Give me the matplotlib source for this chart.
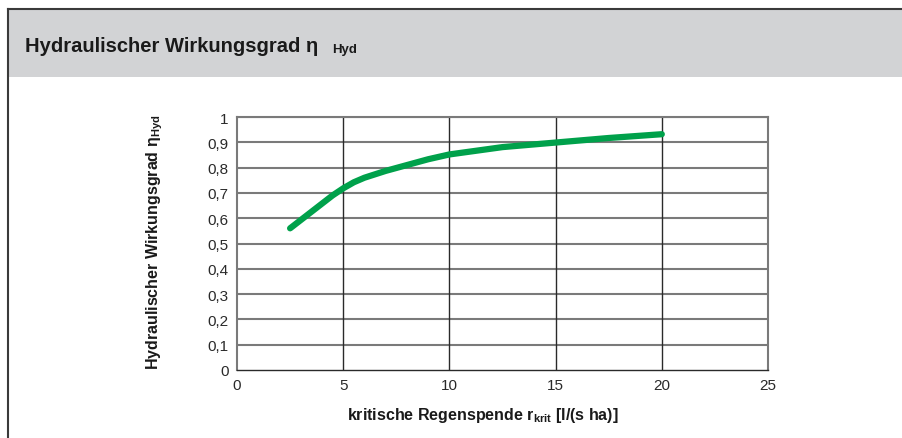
import matplotlib.pyplot as plt
from matplotlib.lines import Line2D
from matplotlib.patches import Rectangle

plt.rcParams['font.family'] = ['Liberation Sans', 'DejaVu Sans']
plt.rcParams['mathtext.fontset'] = 'custom'
plt.rcParams['mathtext.rm'] = 'Liberation Sans:bold'
plt.rcParams['mathtext.bf'] = 'Liberation Sans:bold'
plt.rcParams['mathtext.it'] = 'Liberation Sans:bold'

r_krit = [2.5, 3.5, 4.5, 5, 5.5, 6, 7, 8, 9, 10, 12.5, 15, 17.5, 20]
eta_hyd = [0.56, 0.625, 0.69, 0.718, 0.742, 0.760, 0.787, 0.810, 0.833, 0.852,
           0.881, 0.899, 0.917, 0.932]

x_ticks = [0, 5, 10, 15, 20, 25]
y_ticks = [0, 0.1, 0.2, 0.3, 0.4, 0.5, 0.6, 0.7, 0.8, 0.9, 1]
y_labels = ['0', '0,1', '0,2', '0,3', '0,4', '0,5', '0,6', '0,7', '0,8', '0,9', '1']

W, H = 903, 439
fig = plt.figure(figsize=(W / 100, H / 100), dpi=100)

# Rahmen und grauer Kopf
fig.add_artist(Rectangle((9 / W, 1 - 78 / H), 1, 67 / H, transform=fig.transFigure,
                         facecolor='#d2d3d5', edgecolor='none'))
fig.add_artist(Line2D([8 / W, 1], [1 - 10 / H, 1 - 10 / H], transform=fig.transFigure,
                      color='#3a3a3a', lw=1.5))
fig.add_artist(Line2D([8 / W, 8 / W], [0, 1 - 10 / H], transform=fig.transFigure,
                      color='#3a3a3a', lw=1.5))
title = fig.text(25 / W, 1 - 46 / H, 'Hydraulischer Wirkungsgrad η', fontsize=14.5,
                 fontweight='bold', color='#1a1a1a', va='center', ha='left')
fig.canvas.draw()
bb = title.get_window_extent()
fig.text(bb.x1 / W + 14 / W, 1 - 50 / H, 'Hyd', fontsize=9.5, fontweight='bold',
         color='#1a1a1a', va='center', ha='left')

ax = fig.add_axes([237 / W, 1 - 371 / H, (768 - 237) / W, (371 - 118) / H])
ax.plot(r_krit, eta_hyd, color='#00a14b', lw=4.5, solid_capstyle='round',
        solid_joinstyle='round', zorder=3)

ax.set_xlim(0, 25)
ax.set_ylim(0, 1)
ax.set_xticks(x_ticks)
ax.set_yticks(y_ticks)
ax.set_yticklabels(y_labels)
ax.tick_params(length=0, labelsize=11, colors='#2a2a2a', pad=6)

for y in y_ticks[1:]:
    ax.axhline(y, color='#7a7a7a', lw=1.5, zorder=1)
for x in x_ticks[1:-1]:
    ax.axvline(x, color='#2a2a2a', lw=1.0, zorder=1)
for s in ['top', 'right', 'left']:
    ax.spines[s].set_color('#7a7a7a')
    ax.spines[s].set_linewidth(1.5)
ax.spines['bottom'].set_color('#2a2a2a')
ax.spines['bottom'].set_linewidth(1.0)

fig.text(483 / W, 1 - 416 / H, r'kritische Regenspende r$_{\mathrm{krit}}$ [l/(s ha)]',
         fontsize=11.5, fontweight='bold', color='#1a1a1a', ha='center', va='center')
fig.text(155 / W, 1 - 242 / H, r'Hydraulischer Wirkungsgrad η$_{\mathrm{Hyd}}$',
         fontsize=11.5, fontweight='bold', color='#1a1a1a', ha='center', va='center',
         rotation=90)

fig.savefig('out.png', dpi=100)
